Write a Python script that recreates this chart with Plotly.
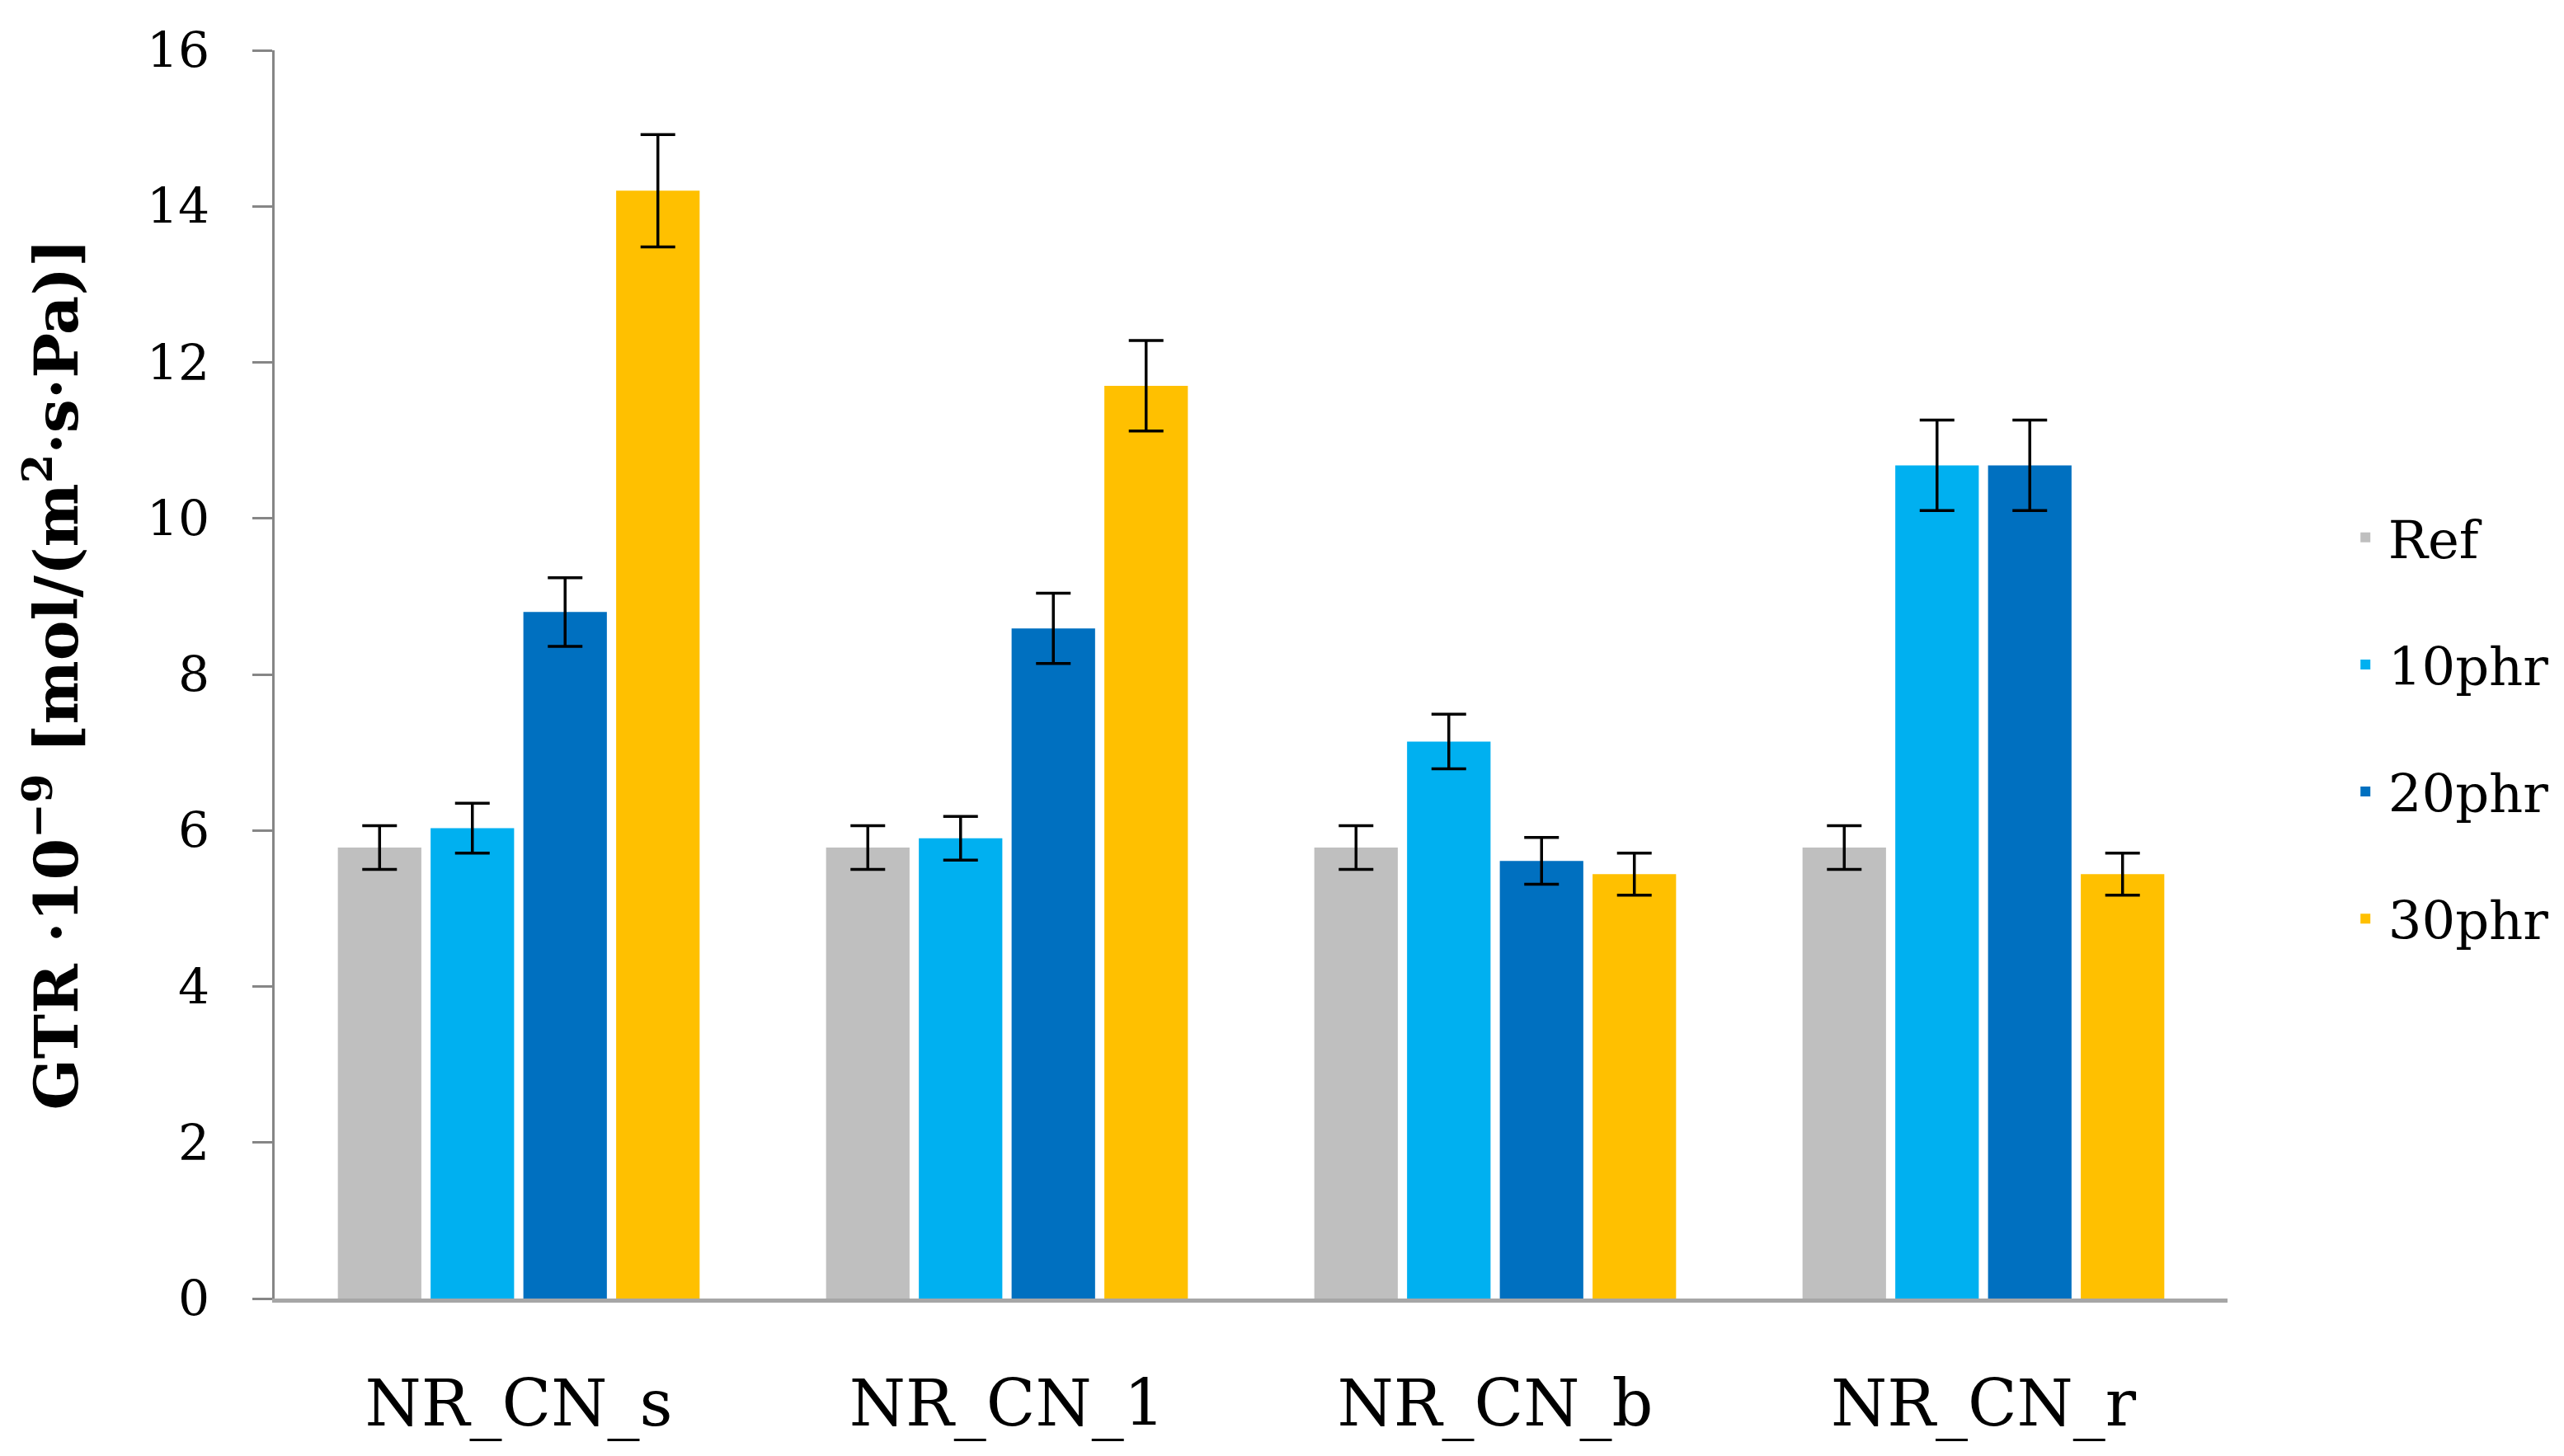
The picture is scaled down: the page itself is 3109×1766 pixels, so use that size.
import plotly.graph_objects as go

categories = ["NR_CN_s", "NR_CN_1", "NR_CN_b", "NR_CN_r"]
series_names = ["Ref", "10phr", "20phr", "30phr"]
ref_vals = [5.78, 5.78, 5.78, 5.78]
ref_err = [0.28, 0.28, 0.28, 0.28]
phr10_vals = [6.03, 5.90, 7.14, 10.68]
phr10_err = [0.32, 0.28, 0.35, 0.58]
phr20_vals = [8.80, 8.59, 5.61, 10.68]
phr20_err = [0.44, 0.45, 0.30, 0.58]
phr30_vals = [14.20, 11.70, 5.44, 5.44]
phr30_err = [0.72, 0.58, 0.27, 0.27]
colors = ["#BFBFBF", "#00B0F0", "#0070C0", "#FFC000"]
y_ticks = [0, 2, 4, 6, 8, 10, 12, 14, 16]

values = [ref_vals, phr10_vals, phr20_vals, phr30_vals]
errors = [ref_err, phr10_err, phr20_err, phr30_err]

FONT = "DejaVu Serif"

fig = go.Figure()
for i, name in enumerate(series_names):
    fig.add_trace(go.Bar(
        x=categories, y=values[i], name=name,
        marker=dict(color=colors[i], line=dict(width=0)),
        error_y=dict(type="data", array=errors[i], visible=True,
                     color="#000000", thickness=3.5, width=21),
        legendgroup=name,
    ))

fig.update_layout(
    width=3109, height=1766,
    paper_bgcolor="white", plot_bgcolor="white",
    margin=dict(l=325, r=416, t=53, b=199),
    barmode="group", bargap=0.24, bargroupgap=0.1,
    font=dict(family=FONT, color="#000000"),
    legend=dict(
        x=1.059, xanchor="left", y=0.457, yanchor="middle",
        font=dict(family=FONT, size=64, color="#000000"),
        tracegroupgap=68, itemwidth=45,
        bgcolor="rgba(0,0,0,0)",
    ),
    showlegend=True,
)

fig.update_xaxes(
    showline=True, linecolor="#A6A6A6", linewidth=5,
    showgrid=False, zeroline=False, ticks="",
    tickfont=dict(family=FONT, size=78, color="#000000"),
    ticklabelstandoff=55,
)
fig.update_yaxes(
    range=[0, 16], tickvals=y_ticks, ticktext=[str(v) for v in y_ticks],
    showline=True, linecolor="#868686", linewidth=2.5,
    ticks="outside", ticklen=24, tickwidth=2.5, tickcolor="#868686",
    showgrid=False, zeroline=False,
    tickfont=dict(family=FONT, size=60, color="#000000"),
    ticklabelstandoff=40,
    title=dict(text="<b>GTR ·10<sup>−9</sup> [mol/(m<sup>2</sup>·s·Pa)]</b>",
               font=dict(family=FONT, size=73, color="#000000"),
               standoff=60),
)

fig.write_html("out.html")
